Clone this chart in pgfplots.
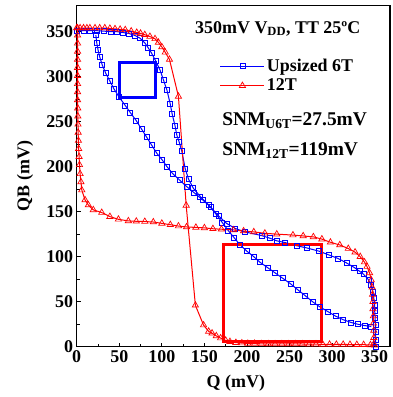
\documentclass[border=0pt]{standalone}
\usepackage{pgfplots}
\pgfplotsset{compat=1.18}
\usepackage{fontspec}
\setmainfont{Liberation Serif}
\definecolor{myblue}{RGB}{0,0,255}
\definecolor{myred}{RGB}{255,0,0}
\newcommand{\ff}{\bfseries\fontsize{18}{21}\selectfont}
\newcommand{\fs}{\bfseries\fontsize{19.5}{23}\selectfont}
\begin{document}
\begin{tikzpicture}
\path[use as bounding box] (-76.7bp,-50.3bp) rectangle (316.3bp,346.7bp);
\begin{axis}[
  scale only axis, width=313.3bp, height=341.2bp,
  at={(0,0)}, anchor=south west,
  xmin=0, xmax=368, ymin=0, ymax=379,
  xtick={0,50,...,350}, ytick={0,50,...,350},
  minor x tick num=1, minor y tick num=1,
  xtick pos=bottom, ytick pos=left,
  tick align=inside,
  major tick length=4bp, minor tick length=3bp,
  tick style={black, line width=0.9bp},
  axis line style={black, line width=1.2bp},
  /pgf/number format/assume math mode=true,
  ticklabel style={font=\ff},
  label style={font=\ff},
  xlabel={Q (mV)}, ylabel={QB (mV)},
  x label style={at={(axis description cs:0.508,0)}, anchor=center, yshift=-36bp},
  y label style={at={(axis description cs:-0.165,0.5)}, anchor=center},
  legend style={at={(axis cs:168,301)}, anchor=west, draw=none, fill=none, font=\ff, inner sep=0pt, row sep=2bp},
  legend cell align=left,
  legend image code/.code={\draw[mark repeat=2,mark phase=2] plot coordinates {(0bp,0bp)(22bp,0bp)(44bp,0bp)};},
]
% Upsized 6T, curve A: QB = f(Q)
\addplot[myblue, line width=1bp, mark=square, mark size=2.5bp, mark options={line width=0.7bp}] coordinates {
(0,351)(8,351)(16,351)(24,351)(32,350.5)(40,350)(47,350)(54,349)(61,348)(68.6,345.6)
(74.5,342.6)(80.4,337)(84,332)(88,326)(93,317)(98,307)(102,296)(106,285)(109.8,270)(112,259)
(115.6,245)(117.6,235)(120.5,227)(123.5,217)(127.4,198)(131.4,186)(137,176)(145,167)(155,157.4)(163,148)
(171,138)(178,129)(185,121)(192,113)(200,106)(208,100)(215,94)(224,88)(233,82)(242,76)
(251,70)(260,63)(268,57)(277,50)(286,44)(295,39)(304,34)(313,30)(322,27)(330,25)
(338,23.5)(346,22.5)};
\addlegendentry{Upsized 6T}
% 12T, curve C
\addplot[myred, line width=1bp, mark=triangle, mark size=3.6bp, mark options={line width=0.7bp}] coordinates {
(0,354)(4,354)(8,354)(12,354)(15.5,354)(21.5,354)(27,354)(33,354)(39,353.5)(45,353)
(51,352.5)(57,352)(64,350.5)(70.5,349)(75,348)(80,346.5)(86,344.5)(92,342)(96,338)(100,333)
(104,327)(109,319)(119.5,278)(128.6,157)(139.4,46)(149,24)(155,17)(159,15)(164,12)(169,9.6)
(175,7)(180,5.6)(187,4.5)(194,4)(201,3.5)(209,3.5)(217,3.2)(225,3)(233,3)(241,3)
(249,3)(257,3)(265,3)(273,2.8)(281,2.8)(289,2.6)(297,2.6)(305,2.5)(313,2.5)(321,2.4)
(329,2.3)(337,2.2)(345,2)(350,1.5)};
\addlegendentry{12T}
% Upsized 6T, curve B: mirror
\addplot[myblue, line width=1bp, mark=square, mark size=2.5bp, mark options={line width=0.7bp}, forget plot] coordinates {
(351,0)(351,8)(351,16)(351,24)(350.5,32)(350,40)(350,47)(349,54)(348,61)(345.6,68.6)
(342.6,74.5)(337,80.4)(332,84)(326,88)(317,93)(307,98)(296,102)(285,106)(270,109.8)(259,112)
(245,115.6)(235,117.6)(227,120.5)(217,123.5)(198,127.4)(186,131.4)(176,137)(167,145)(157.4,155)(148,163)
(138,171)(129,178)(121,185)(113,192)(106,200)(100,208)(94,215)(88,224)(82,233)(76,242)
(70,251)(63,260)(57,268)(50,277)(44,286)(39,295)(34,304)(30,313)(27,322)(25,330)
(23.5,338)(22.5,346)};
% 12T, curve D
\addplot[myred, line width=1bp, mark=triangle, mark size=3.6bp, mark options={line width=0.7bp}, forget plot] coordinates {
(1,354)(1,346)(1,337)(1,328)(1,319)(1,310)(1,301)(1,292)(1,283)(1,274)
(1.2,265)(1.3,256)(1.5,247)(1.7,238)(2,229)(2.3,220)(2.8,211)(3.3,202)(4,192)(5,183)
(6,174)(9.8,163)(13.7,157.4)(19.5,152)(29.4,149)(39,144.5)(49,141.5)(60.7,139.7)(70,139.3)(80,139)
(90,138.5)(100,137)(110,135.5)(119.5,134)(129,133)(140,132.5)(150,132)(160,131)(170,130.5)(184,129.7)
(196,128.5)(208,127.5)(221,126)(235,125)(254,124)(266,123)(278,122)(288,119.5)(298,116)(309,113)
(319,109)(327,105)(333,100)(338,94)(341,89)(344,82)(346,74)(347,66)(347.5,58)(348,50)
(348,42)(348.5,34)(348.5,26)(349,18)(349,10)(349,3)};
% SNM boxes
\draw[myblue, line width=3bp] (axis cs:50,277) rectangle (axis cs:92,316);
\draw[myred, line width=3bp] (axis cs:173,6) rectangle (axis cs:287,114);
% annotations
\node[anchor=base west, inner sep=0pt, font=\ff] at (axis cs:139,348) {350mV V\textsubscript{DD}, TT 25ºC};
\node[anchor=base west, inner sep=0pt, font=\fs] at (axis cs:170.8,246) {SNM\textsubscript{U6T}=27.5mV};
\node[anchor=base west, inner sep=0pt, font=\fs] at (axis cs:170.8,212) {SNM\textsubscript{12T}=119mV};
\end{axis}
\end{tikzpicture}
\end{document}
